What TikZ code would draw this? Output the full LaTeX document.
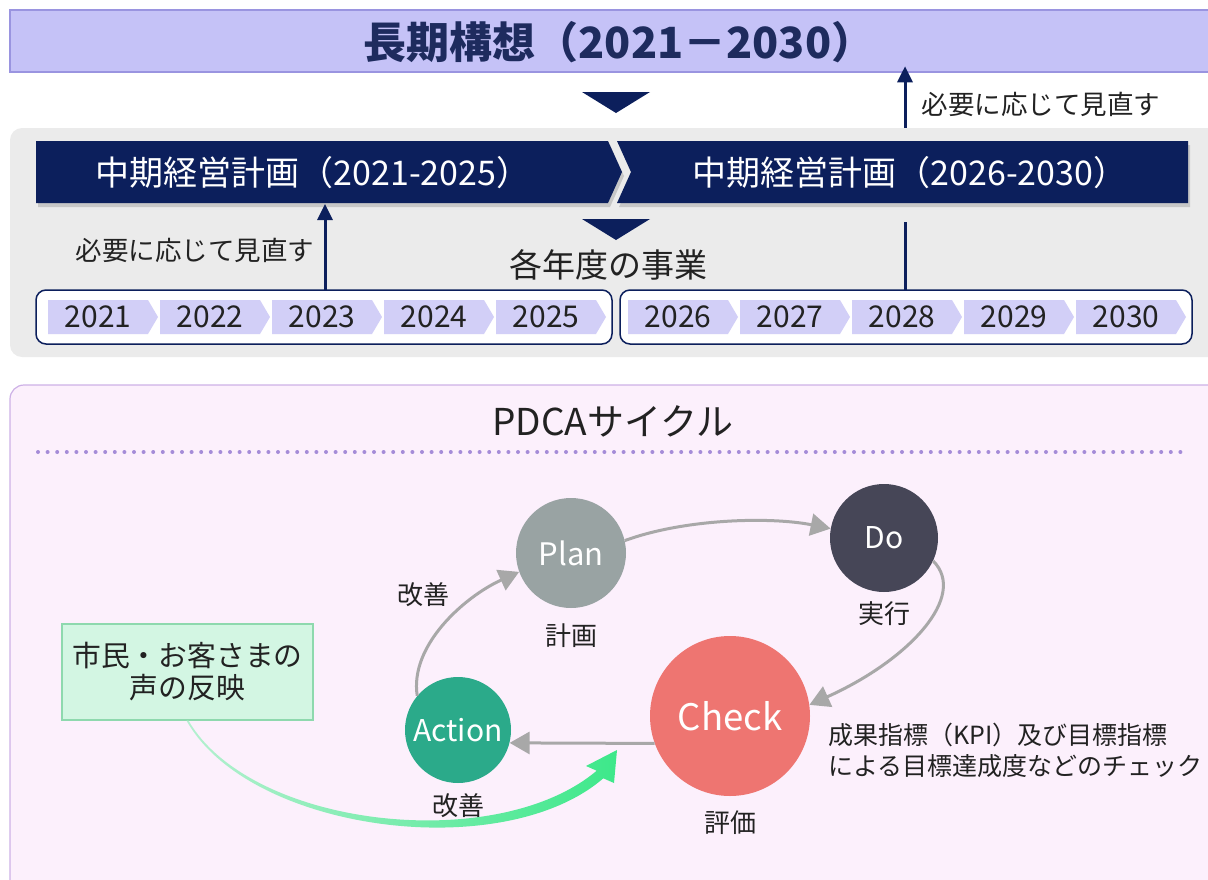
\documentclass[tikz,border=0pt]{standalone}
\usepackage{fontspec}
\setmainfont{Noto Sans CJK JP}
\usepackage{tikz}
\usetikzlibrary{arrows.meta}

\definecolor{navy}{HTML}{0C1F5C}
\definecolor{titlenavy}{HTML}{1E2B5E}
\definecolor{titlefill}{HTML}{C5C2F7}
\definecolor{titleline}{HTML}{9A94E0}
\definecolor{panelgray}{HTML}{EBEBEB}
\definecolor{yearfill}{HTML}{D2CFF7}
\definecolor{pinkfill}{HTML}{FCF0FC}
\definecolor{pinkline}{HTML}{CDB0E6}
\definecolor{dotpurple}{HTML}{A58CD8}
\definecolor{plangray}{HTML}{99A3A3}
\definecolor{doslate}{HTML}{464657}
\definecolor{checkred}{HTML}{EE7571}
\definecolor{actgreen}{HTML}{2BAA8A}
\definecolor{arrowgray}{HTML}{A8A8A8}
\definecolor{voicefill}{HTML}{D3F6E3}
\definecolor{voiceline}{HTML}{8ED9AE}
\definecolor{greenbright}{HTML}{3DE88A}
\definecolor{greenpale}{HTML}{B5F0D0}
\definecolor{inktext}{HTML}{222222}

\newcommand{\fsz}[2]{\fontsize{#1}{#2}\selectfont}

\begin{document}
\begin{tikzpicture}
  [x = 1pt, y = -1pt,
   navyarrow/.style = {draw = navy, line width = 3pt, -{Triangle[length=16pt, width=15pt]}},
   cyclearrow/.style = {draw = arrowgray, line width = 3pt, -{Triangle[length=20pt, width=22pt]}},
   stage/.style = {circle, text = white, inner sep = 0pt},
   caption/.style = {text = inktext, font = \fsz{26}{30}},
   bandtext/.style = {text = white, font = \fsz{34}{38}},
   yeartext/.style = {text = inktext, font = \fsz{30}{34}}]
  \clip (0,0) rectangle (1208,879);

  % long-term vision
  \draw[fill = titlefill, draw = titleline, line width = 1.2pt] (10,10) rectangle (1222,72);
  \node[text = titlenavy, font = \fsz{43}{46}\bfseries] (title) at (619,42) {長期構想（2021－2030）};
  \fill[navy] (582,92) -- (650,92) -- (616,113) -- cycle;
  \coordinate (revtop) at (905,128);
  \draw[navyarrow] (revtop) -- (revtop |- title.south);
  \node[anchor = west, text = inktext, font = \fsz{26.5}{30}] (revtxtA) at (918,104) {必要に応じて見直す};

  % mid-term plans
  \fill[panelgray, rounded corners = 12pt] (10,128) rectangle (1222,357);
  \fill[black!22] (38,145) -- (610,145) -- (624,176) -- (610,207) -- (38,207) -- cycle;
  \fill[black!22] (619,145) -- (1190,145) -- (1190,207) -- (619,207) -- (633,176) -- cycle;
  \fill[navy] (36,141) -- (608,141) -- (622,172) -- (608,203) -- (36,203) -- cycle;
  \fill[navy] (617,141) -- (1188,141) -- (1188,203) -- (617,203) -- (631,172) -- cycle;
  \node[bandtext] (mtpA) at (313,173) {中期経営計画（2021-2025）};
  \node[bandtext] (mtpB) at (910,173) {中期経営計画（2026-2030）};
  \fill[navy] (582,219) -- (650,219) -- (616,240) -- cycle;
  \node[text = inktext, font = \fsz{33}{36}] (yearly) at (608,265) {各年度の事業};

  % yearly business
  \draw[fill = white, draw = navy, line width = 1.5pt, rounded corners = 10pt] (36,290) rectangle (612,344);
  \draw[fill = white, draw = navy, line width = 1.5pt, rounded corners = 10pt] (620,290) rectangle (1192,344);
  \foreach \i in {0,...,9}{
    \pgfmathtruncatemacro{\yr}{2021+\i}
    \pgfmathsetmacro{\xa}{48+112*\i+20*(\i>4)}
    \fill[yearfill] (\xa,300) -- ++(100,0) -- ++(10,17) -- ++(-10,17) -- ++(-100,0) -- cycle;
    \node[yeartext] (y\yr) at (\xa+50,317) {\yr};
  }
  \coordinate (revbot) at (325,290);
  \coordinate (bandbot) at (325,204);
  \draw[navyarrow] (revbot) -- (bandbot);
  \node[anchor = east, text = inktext, font = \fsz{26.5}{30}] (revtxtB) at (318,250) {必要に応じて見直す};
  \coordinate (linktop) at (905,222);
  \draw[draw = navy, line width = 3pt] (linktop) -- (905,290);

  % PDCA cycle
  \draw[fill = pinkfill, draw = pinkline, line width = 1.2pt, rounded corners = 14pt] (10,385) rectangle (1222,900);
  \node[text = inktext, font = \fsz{37}{40}] (pdca) at (613,421) {PDCAサイクル};
  \draw[dotpurple, line width = 4pt, line cap = round, dash pattern = on 0pt off 9.6pt] (38,452) -- (1183,452);

  \node[stage, fill = plangray, minimum size = 110pt, font = \fsz{31}{34}] (plan) at (571,553) {Plan};
  \node[stage, fill = doslate, minimum size = 108pt, font = \fsz{30}{34}] (do) at (884,538) {Do};
  \node[stage, fill = checkred, minimum size = 160pt, font = \fsz{36.5}{40}] (check) at (730,716) {Check};
  \node[stage, fill = actgreen, minimum size = 106pt, font = \fsz{30}{34}] (action) at (458,730) {Action};

  \node[caption] (plancap) at (571,636) {計画};
  \node[caption] (docap) at (884,614) {実行};
  \node[caption] (checkcap) at (730,823) {評価};
  \node[caption] (actcap) at (458,806) {改善};
  \node[caption] (improve) at (423,595) {改善};
  \node[anchor = west, text = inktext, font = \fsz{25}{31}, align = left] (kpi) at (825,750)
    {成果指標（KPI）及び目標指標\\による目標達成度などのチェック};

  \draw[cyclearrow] (plan.13) .. controls +(60,-22) and +(-60,-12) .. (do.170);
  \draw[cyclearrow] (do.-25) .. controls +(35,35) and +(100,-45) .. (check.8);
  \draw[cyclearrow] (check.200) -- (action.-14);
  \draw[cyclearrow] (action.140) .. controls +(-8,-50) and +(-55,25) .. (plan.200);

  % citizens' voice
  \node[draw = voiceline, fill = voicefill, line width = 1.2pt, minimum width = 251pt, minimum height = 96pt,
        text = inktext, font = \fsz{28.8}{32}, align = center] (voice) at (187.5,672) {市民・お客さまの\\声の反映};
  \shade[left color = greenpale, middle color = greenbright, right color = greenbright]
    ([xshift = 1pt]voice.south) .. controls (251,828) and (497,855) .. (596.7,770.7)
    -- (586,766) -- (617,750) -- (614,783) -- (603.3,778.3)
    .. controls (503,865) and (249,832) .. ([xshift = -1pt]voice.south) -- cycle;
\end{tikzpicture}
\end{document}
